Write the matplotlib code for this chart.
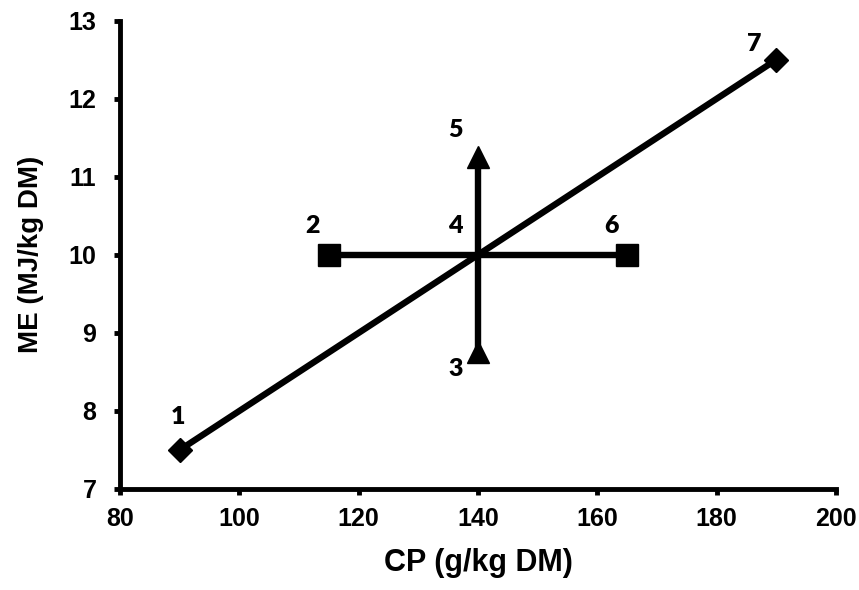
import matplotlib
matplotlib.use("Agg")
import matplotlib.pyplot as plt

# Three diets crossing at the reference point (140 g CP, 10 MJ ME)
diag_cp = [90, 140, 190]
diag_me = [7.5, 10, 12.5]
horiz_cp = [115, 140, 165]
horiz_me = [10, 10, 10]
vert_cp = [140, 140, 140]
vert_me = [8.75, 10, 11.25]

# Numbered treatment points
point_ids = ["1", "2", "3", "4", "5", "6", "7"]
point_cp = [90, 115, 140, 140, 140, 165, 190]
point_me = [7.5, 10, 8.75, 10, 11.25, 10, 12.5]

x_ticks = [80, 100, 120, 140, 160, 180, 200]
y_ticks = [7, 8, 9, 10, 11, 12, 13]

# label offsets in points (dx, dy) from each point
label_offsets = [(-1, 24), (-12, 21), (-16, -12), (-16, 21),
                 (-16, 20), (-11, 21), (-16, 11)]

plt.rcParams['font.family'] = ['Liberation Sans', 'DejaVu Sans']

fig = plt.figure(figsize=(8.59, 5.90), dpi=100)
ax = fig.add_axes([0.1397, 0.1712, 0.8335, 0.7937])

lw = 4.6
ax.plot(diag_cp, diag_me, color='black', lw=lw, marker='D',
        markersize=12, markevery=[0, 2], solid_capstyle='butt', zorder=3)
ax.plot(horiz_cp, horiz_me, color='black', lw=lw, marker='s',
        markersize=15.5, markevery=[0, 2], solid_capstyle='butt', zorder=3)
ax.plot(vert_cp, vert_me, color='black', lw=lw, marker='^',
        markersize=15.5, markevery=[0, 2], solid_capstyle='butt', zorder=3)

for pid, cp, me, (dx, dy) in zip(point_ids, point_cp, point_me, label_offsets):
    ax.annotate(pid, (cp, me), xytext=(dx, dy), textcoords='offset points',
                ha='center', va='center', fontsize=18, fontweight='heavy',
                family=['Lato', 'DejaVu Sans'])

ax.set_xlim(80, 200)
ax.set_ylim(7, 13)
ax.set_xticks(x_ticks)
ax.set_yticks(y_ticks)
for spine in ['top', 'right']:
    ax.spines[spine].set_visible(False)
for spine in ['left', 'bottom']:
    ax.spines[spine].set_linewidth(3.5)
ax.tick_params(direction='out', length=4, width=3.5, labelsize=18)
ax.tick_params(axis='x', pad=9)
ax.tick_params(axis='y', pad=13)
for lbl in ax.get_xticklabels() + ax.get_yticklabels():
    lbl.set_fontweight('bold')

ax.set_xlabel('CP (g/kg DM)', fontsize=22, fontweight='bold', labelpad=12)
ax.set_ylabel('ME (MJ/kg DM)', fontsize=20, fontweight='bold', labelpad=18)

fig.savefig('out.png', dpi=100)
